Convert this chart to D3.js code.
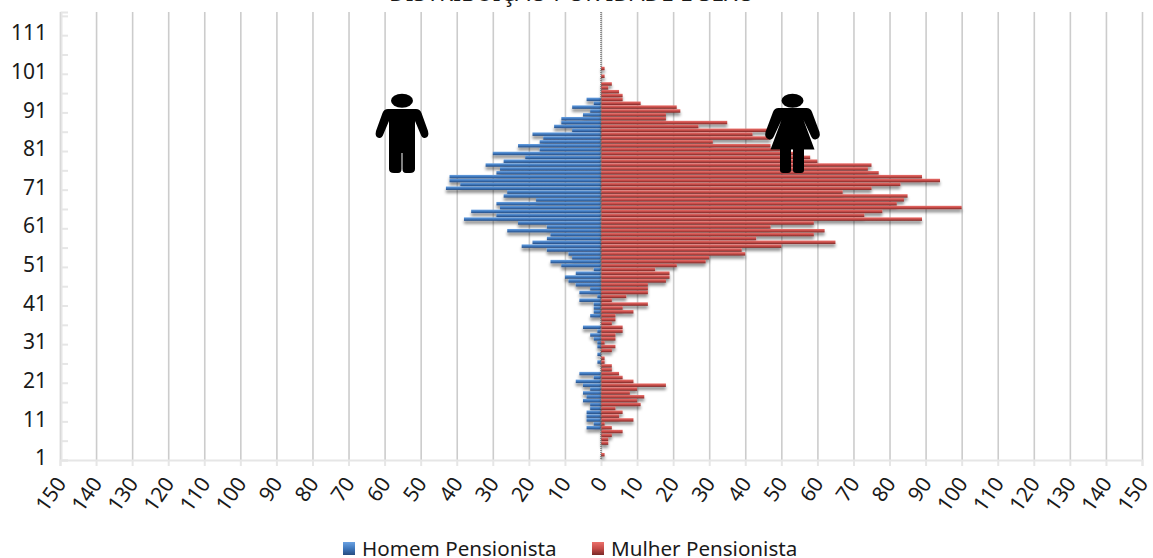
<!DOCTYPE html>
<html>
<head>
<meta charset="utf-8">
<script src="https://cdn.jsdelivr.net/npm/d3@7"></script>
<style>
body { margin: 0; background: #fff; }
svg { display: block; }
text { font-family: "Noto Sans", sans-serif; fill: #1a1a1a; }
</style>
</head>
<body>
<svg width="1153" height="558"></svg>
<script>
// values by age, index 0 = age 1
var homem = [0,0,0,0,0,0,0,0,4,2, 4,4,4,3,3,5,4,5,3,5, 7,2,6,0,0,1,0,1,0,1, 1,2,3,1,5,0,0,3,2,2, 2,6,1,6,3,7,9,10,7,2,
    11,14,8,9,15,22,19,15,14,26, 15,23,38,29,36,28,29,18,27,26, 43,39,42,42,29,28,32,27,21,30, 17,23,17,16,19,8,13,11,11,5, 3,8,2,4];
var mulher = [0,1,0,0,2,2,3,6,3,1, 9,5,6,4,11,10,12,8,10,18, 9,6,5,3,3,1,1,0,3,4, 1,4,4,6,6,3,4,4,9,6, 13,3,7,13,13,13,18,19,19,15,
    21,29,30,40,39,50,65,43,59,62, 47,59,89,73,78,100,82,84,85,67, 75,83,94,89,77,74,75,60,58,55, 50,47,31,47,42,47,27,35,18,18, 22,21,11,6,6,5,2,3,0,1, 0,1];
var seriesNames = ["Homem Pensionista", "Mulher Pensionista"];
var xTicks = [-150,-140,-130,-120,-110,-100,-90,-80,-70,-60,-50,-40,-30,-20,-10,0,10,20,30,40,50,60,70,80,90,100,110,120,130,140,150];
var yLabels = [1,11,21,31,41,51,61,71,81,91,101,111];
var ageCount = 116;
var titulo = "DISTRIBUIÇÃO POR IDADE E SEXO";

var svg = d3.select("svg"),
    plotLeft = 60, plotRight = 1142, plotTop = 12, plotBottom = 460;

var x = d3.scaleLinear().domain([-150, 150]).range([plotLeft, plotRight]),
    y = d3.scaleBand().domain(d3.range(1, ageCount + 1)).range([plotBottom, plotTop]).paddingInner(0.1).paddingOuter(0.05),
    yEdge = d3.scaleLinear().domain([0, ageCount]).range([plotBottom, plotTop]);

var defs = svg.append("defs");

function barGradient(id, stops) {
    var g = defs.append("linearGradient").attr("id", id).attr("x1", 0).attr("x2", 0).attr("y1", 0).attr("y2", 1);
    stops.forEach(function(s, i) {
        g.append("stop").attr("offset", i / (stops.length - 1)).attr("stop-color", s);
    });
}
barGradient("gradHomem", ["#6aa2e2", "#3f78bd", "#264c80"]);
barGradient("gradMulher", ["#ea706b", "#c64c49", "#7a2927"]);

var shadow = defs.append("filter").attr("id", "sombra")
    .attr("x", "-5%").attr("y", "-5%").attr("width", "110%").attr("height", "110%");
shadow.append("feDropShadow").attr("dx", 0).attr("dy", 3).attr("stdDeviation", 1.6)
    .attr("flood-color", "#000").attr("flood-opacity", 0.45);

// title sits mostly above the top of the picture
svg.append("text").attr("x", 572).attr("y", 0.5).attr("text-anchor", "middle")
    .style("font-size", "23px").text(titulo);

// grid
svg.append("g")
    .attr("transform", "translate(0," + plotBottom + ")")
    .call(d3.axisBottom(x).tickValues(xTicks).tickSize(-(plotBottom - plotTop)).tickFormat(""))
    .call(function(g) {
        g.select(".domain").remove();
        g.selectAll("line").attr("stroke", "#cccccc").attr("stroke-width", 1.6);
    });

// x axis with rotated labels
svg.append("g").attr("class", "x")
    .attr("transform", "translate(0," + plotBottom + ")")
    .call(d3.axisBottom(x).tickValues(xTicks).tickSize(6).tickFormat(function(d) { return Math.abs(d); }))
    .call(function(g) {
        g.select(".domain").attr("stroke", "#e6e6e6").attr("stroke-width", 2);
        g.selectAll("line").attr("stroke", "#e6e6e6").attr("stroke-width", 2);
        g.selectAll("text")
            .style("font-size", "21px")
            .attr("text-anchor", "end")
            .attr("dy", 0)
            .attr("transform", "translate(0,19) rotate(-55)")
            .attr("y", 0).attr("x", 0)
            .attr("dominant-baseline", "central");
    });

// y axis
svg.append("g")
    .attr("transform", "translate(61,0)")
    .call(d3.axisRight(yEdge).tickValues(d3.range(0, ageCount, 5)).tickSize(7).tickFormat(""))
    .call(function(g) {
        g.select(".domain").attr("stroke", "#e6e6e6").attr("stroke-width", 2);
        g.selectAll("line").attr("stroke", "#e6e6e6").attr("stroke-width", 2);
    });

svg.append("g")
    .attr("transform", "translate(47,0)")
    .call(d3.axisLeft(y).tickValues(yLabels).tickSize(0).tickPadding(0))
    .call(function(g) {
        g.select(".domain").remove();
        g.selectAll("text").style("font-size", "21px").attr("dy", "0.34em");
    });

// bars
svg.append("g").attr("filter", "url(#sombra)").selectAll("rect")
    .data(homem.map(function(v, i) { return {age: i + 1, v: v}; }).filter(function(d) { return d.v > 0; }))
    .enter().append("rect")
    .attr("x", function(d) { return x(-d.v); })
    .attr("y", function(d) { return y(d.age) + 0.5; })
    .attr("width", function(d) { return x(0) - x(-d.v); })
    .attr("height", y.bandwidth())
    .attr("fill", "url(#gradHomem)");

svg.append("g").attr("filter", "url(#sombra)").selectAll("rect")
    .data(mulher.map(function(v, i) { return {age: i + 1, v: v}; }).filter(function(d) { return d.v > 0; }))
    .enter().append("rect")
    .attr("x", x(0))
    .attr("y", function(d) { return y(d.age) + 0.5; })
    .attr("width", function(d) { return x(d.v) - x(0); })
    .attr("height", y.bandwidth())
    .attr("fill", "url(#gradMulher)");

// dotted zero line
svg.append("line")
    .attr("x1", x(0)).attr("x2", x(0)).attr("y1", plotTop).attr("y2", plotBottom)
    .attr("stroke", "#777").attr("stroke-width", 1.5).attr("stroke-dasharray", "1 1");

// pictograms
var man = svg.append("g").attr("transform", "translate(402,0)");
man.append("ellipse").attr("cx", 0).attr("cy", 100.7).attr("rx", 11).attr("ry", 7);
man.append("path").attr("d",
    "M-14,109 L14,109 Q18,109 19.5,113 L26,131 Q27.5,137 23,138 Q20,138.5 18.5,134 L13,121 L13,169 Q13,173 8,173 L4,173 Q0.5,173 0.5,169 L0.5,153 L-0.5,153 L-0.5,169 Q-0.5,173 -4,173 L-8,173 Q-13,173 -13,169 L-13,121 L-18.5,134 Q-20,138.5 -23,138 Q-27.5,137 -26,131 L-19.5,113 Q-18,109 -14,109 Z");

var woman = svg.append("g").attr("transform", "translate(792.5,0)");
woman.append("ellipse").attr("cx", 0).attr("cy", 100.7).attr("rx", 11).attr("ry", 7);
woman.append("path").attr("d",
    "M-14,108 L14,108 Q18,108 19.5,112 L27,132 Q28.5,138 23,139.5 Q20,140 18,135 L11,120 L22,149.5 L-22,149.5 L-11,120 L-18,135 Q-20,140 -23,139.5 Q-28.5,138 -27,132 L-19.5,112 Q-18,108 -14,108 Z");
[-12.5, 0.5].forEach(function(dx) {
    woman.append("rect").attr("x", dx).attr("y", 145).attr("width", 11).attr("height", 28).attr("rx", 3);
});

// legend
var legendX = [343, 592];
var legend = svg.selectAll(".legend").data(seriesNames).enter().append("g")
    .attr("class", "legend")
    .attr("transform", function(d, i) { return "translate(" + legendX[i] + ",0)"; });
legend.append("rect").attr("x", 0).attr("y", 542).attr("width", 12).attr("height", 13)
    .attr("fill", function(d, i) { return i == 0 ? "url(#gradHomem)" : "url(#gradMulher)"; });
legend.append("text").attr("x", 19).attr("y", 556).style("font-size", "20.6px").text(function(d) { return d; });
</script>
</body>
</html>
